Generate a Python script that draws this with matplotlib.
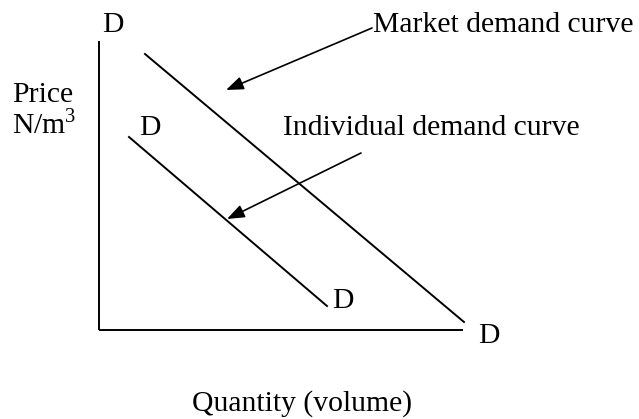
import matplotlib
matplotlib.use("Agg")
import matplotlib.pyplot as plt
from matplotlib.patches import FancyArrowPatch

plt.rcParams['font.family'] = ['Liberation Serif', 'DejaVu Serif']
plt.rcParams['mathtext.fontset'] = 'custom'
plt.rcParams['mathtext.rm'] = 'Liberation Serif'

# diagram units: origin at the axes corner, x = quantity, y = price
axis_x_end = 364
axis_y_end = 289

market_q = [46, 365]
market_p = [276, 8]
indiv_q = [30, 228]
indiv_p = [193, 24]

market_arrow = [(273, 302), (127, 240)]
indiv_arrow = [(262, 177), (128, 111)]

fig = plt.figure(figsize=(6.39, 4.19), dpi=100)
ax = fig.add_axes([0, 0, 1, 1])
ax.set_xlim(-99, 540)
ax.set_ylim(-89, 330)
ax.axis('off')

lw = 1.4
ax.plot([0, 0], [0, axis_y_end], color='black', lw=lw, solid_capstyle='butt')
ax.plot([0, axis_x_end], [0, 0], color='black', lw=lw, solid_capstyle='butt')
ax.plot(market_q, market_p, color='black', lw=lw)
ax.plot(indiv_q, indiv_p, color='black', lw=lw)

for start, end in [market_arrow, indiv_arrow]:
    arr = FancyArrowPatch(start, end, arrowstyle='-|>,head_length=10.5,head_width=4',
                          mutation_scale=1, shrinkA=0, shrinkB=0,
                          color='black', lw=1.2)
    ax.add_patch(arr)

fs = 21.3
ax.text(3, 298, 'D', fontsize=fs, va='baseline')
ax.text(274, 298, 'Market demand curve', fontsize=fs, va='baseline')
ax.text(-87, 228, 'Price', fontsize=fs, va='baseline')
ax.text(-87, 196, 'N/m$^{\\mathrm{3}}$', fontsize=fs, va='baseline')
ax.text(40, 195, 'D', fontsize=fs, va='baseline')
ax.text(184, 195, 'Individual demand curve', fontsize=fs, va='baseline')
ax.text(233, 22, 'D', fontsize=fs, va='baseline')
ax.text(379, -13, 'D', fontsize=fs, va='baseline')
ax.text(203.5, -81, 'Quantity (volume)', fontsize=fs, va='baseline', ha='center')

fig.savefig('out.png', dpi=100)
